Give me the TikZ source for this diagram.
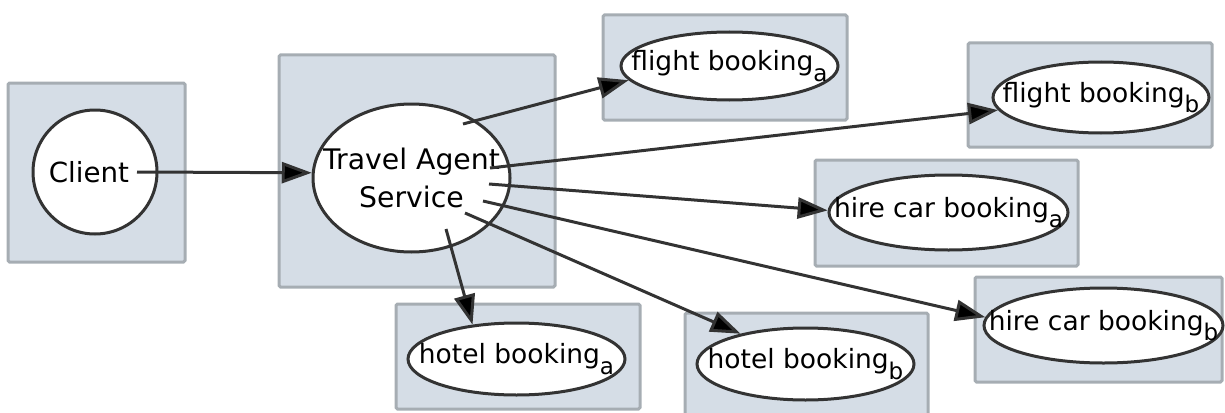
\documentclass[tikz,border=0pt]{standalone}
\usepackage{fontspec}
\setmainfont{DejaVu Sans}
\usetikzlibrary{arrows.meta,shapes.geometric}
\definecolor{boxfill}{HTML}{D5DDE6}
\definecolor{boxline}{HTML}{A6ADB3}
\definecolor{ink}{HTML}{333333}
\newcommand{\subl}[1]{\raisebox{-0.4em}{\fontsize{23}{23}\selectfont #1}}
\begin{document}
\begin{tikzpicture}[x=1pt,y=-1pt,
  box/.style={fill=boxfill,draw=boxline,line width=3pt,rounded corners=1.5pt},
  svc/.style={ellipse,draw=ink,fill=white,line width=3pt,inner xsep=-45pt,inner ysep=-8pt},
  lab/.style={font=\fontsize{26.5}{30}\selectfont},
  conn/.style={draw=ink,line width=3pt,-{Triangle[length=30pt,width=21pt,fill=black]}}]
\useasboundingbox (0,0) rectangle (1225,412);
\clip (0,0) rectangle (1225,412);
% background boxes
\draw[box] (8,83) rectangle (185,262);
\draw[box] (279,55) rectangle (555,287);
\draw[box] (603,15) rectangle (847,120);
\draw[box] (968,43) rectangle (1212,147);
\draw[box] (815,160) rectangle (1078,266);
\draw[box] (975,277) rectangle (1222,382);
\draw[box] (396,304) rectangle (640,409);
\draw[box] (685,313) rectangle (928,420);
% nodes
\node[svc,circle,inner sep=0pt,minimum size=124pt,font=\fontsize{27.7}{32}\selectfont] (client) at (95,172) {\hspace*{-12pt}Client};
\node[svc,minimum width=197pt,minimum height=148pt,align=center,font=\fontsize{28.3}{38}\selectfont] (ta) at (411.5,178) {Travel Agent\\Service};
\node[svc,lab,minimum width=217pt,minimum height=68pt] (fa) at (729.5,66) {flight booking\subl{a}};
\node[svc,lab,minimum width=216pt,minimum height=71pt] (fb) at (1101,97.5) {flight booking\subl{b}};
\node[svc,lab,minimum width=239pt,minimum height=75pt] (ha) at (948.5,212.5) {hire car booking\subl{a}};
\node[svc,lab,minimum width=239pt,minimum height=75pt] (hb) at (1103.5,325.5) {hire car booking\subl{b}};
\node[svc,lab,minimum width=217pt,minimum height=72pt] (hoa) at (516.5,359) {hotel booking\subl{a}};
\node[svc,lab,minimum width=217pt,minimum height=72pt] (hob) at (805.5,364) {hotel booking\subl{b}};
% connector start points
\coordinate (c0) at (137,172);
\coordinate (s1) at (463,124);
\coordinate (s2) at (490,168);
\coordinate (s3) at (489,184);
\coordinate (s4) at (483,201);
\coordinate (s5) at (465,213);
\coordinate (s6) at (446,229);
% connectors
\draw[conn] (c0) -- (ta.177);
\draw[conn] (s1) -- (fa.188);
\draw[conn] (s2) -- (fb.187);
\draw[conn] (s3) -- (ha.179);
\draw[conn] (s4) -- (hb.176);
\draw[conn] (s5) -- (hob.155);
\draw[conn] (s6) -- (hoa.142);
\end{tikzpicture}
\end{document}
